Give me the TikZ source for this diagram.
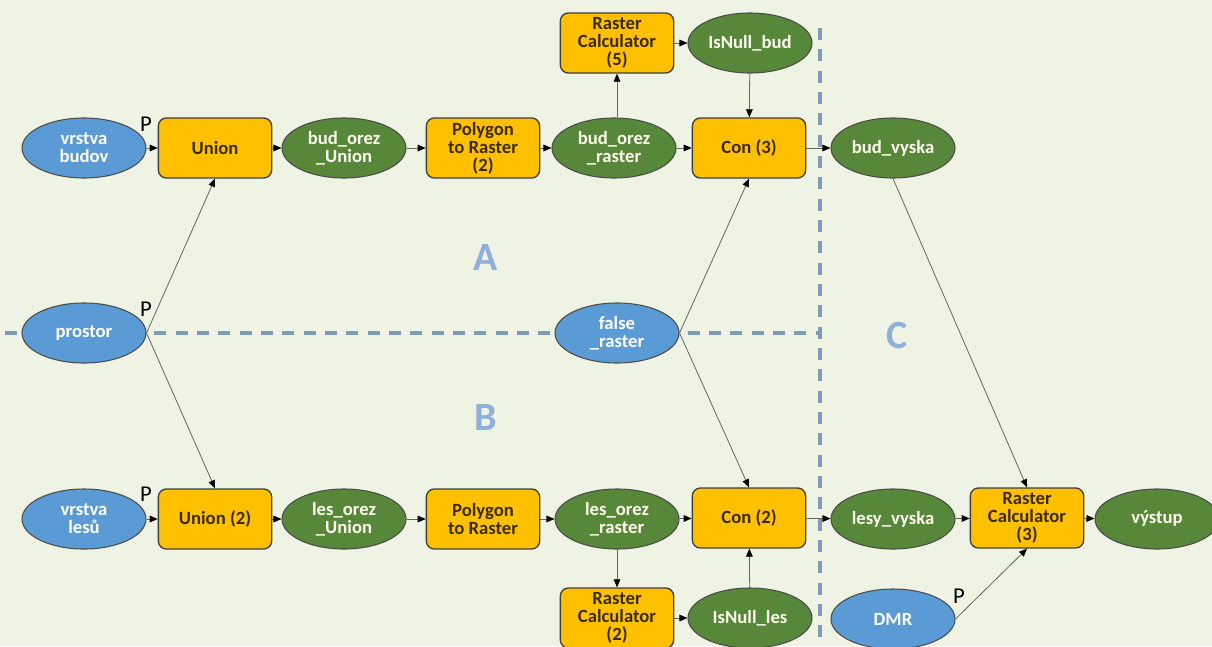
\documentclass[tikz,border=0pt]{standalone}
\usepackage{fontspec}
\setmainfont{Carlito}
\usepackage{tikz}
\usetikzlibrary{shapes.geometric, arrows.meta}
\definecolor{bgcol}{HTML}{EEF3E3}
\definecolor{toolfill}{HTML}{FFC000}
\definecolor{tooltext}{HTML}{3B2B05}
\definecolor{infill}{HTML}{5B9BD5}
\definecolor{outfill}{HTML}{578738}
\definecolor{regcol}{HTML}{7E9CB8}
\definecolor{lettercol}{HTML}{8DB1DA}

\begin{document}
\begin{tikzpicture}[x=0.75pt, y=-0.75pt, font=\bfseries\fontsize{14}{13.5}\selectfont,
  tool/.style={draw=black!75, line width=1pt, fill=toolfill, rounded corners=6pt, minimum width=85pt, minimum height=45pt, align=center, text=tooltext, inner sep=1pt},
  indata/.style={ellipse, draw=black!70, line width=0.8pt, fill=infill, minimum width=93pt, minimum height=45pt, align=center, text=white!94!yellow, inner sep=0pt},
  outdata/.style={indata, fill=outfill},
  flow/.style={draw=black!60, line width=0.6pt, -{Triangle[length=6pt, width=5pt, color=black]}},
  region/.style={draw=regcol, line width=3pt, dash pattern=on 9pt off 7pt},
  param/.style={font=\fontsize{17}{17}\selectfont, text=black, inner sep=0pt},
  area/.style={font=\bfseries\fontsize{30}{30}\selectfont, text=lettercol, inner sep=0pt}]
  \useasboundingbox (0,0) rectangle (1212,646);
  \clip (0,0) rectangle (1212,646);
  \fill[bgcol] (0,0) rectangle (1212,646);
  \draw[region] (5,333) -- (820,333);
  \draw[region] (820,28) -- (820,646);
  \node[area] (la) at (486,258) {A};
  \node[area] (lb) at (486,418) {B};
  \node[area] (lc) at (897,336) {C};

  % upper branch
  \node[indata] (budov) at (84,148) {vrstva\\budov};
  \node[tool] (union1) at (215,148) {Union};
  \node[outdata] (budUnion) at (344,148) {bud\_orez\\\_Union};
  \node[tool] (ptr2) at (483,148) {Polygon\\to Raster\\(2)};
  \node[outdata] (budRaster) at (614,148) {bud\_orez\\\_raster};
  \node[tool] (rc5) at (617,43) {Raster\\Calculator\\(5)};
  \node[outdata] (nullBud) at (750,43) {IsNull\_bud};
  \node[tool] (con3) at (749,148) {Con (3)};
  \node[outdata] (budVyska) at (893,148) {bud\_vyska};

  % inputs on the border
  \node[indata] (prostor) at (84,333) {prostor};
  \node[indata] (falseR) at (617,333) {false\\\_raster};

  % lower branch
  \node[indata] (lesu) at (84,519) {vrstva\\lesů};
  \node[tool] (union2) at (215,519) {Union (2)};
  \node[outdata] (lesUnion) at (344,519) {les\_orez\\\_Union};
  \node[tool] (ptr) at (483,519) {Polygon\\to Raster};
  \node[outdata] (lesRaster) at (617,519) {les\_orez\\\_raster};
  \node[tool] (rc2) at (617,618) {Raster\\Calculator\\(2)};
  \node[outdata] (nullLes) at (750,618) {IsNull\_les};
  \node[tool] (con2) at (749,518) {Con (2)};
  \node[outdata] (lesyVyska) at (893,519) {lesy\_vyska};
  \node[tool] (rc3) at (1027,518) {Raster\\Calculator\\(3)};
  \node[outdata] (vystup) at (1157,519) {výstup};
  \node[indata] (dmr) at (893,619) {DMR};

  \node[param] (p1) at (146,124) {P};
  \node[param] (p2) at (146,309) {P};
  \node[param] (p3) at (146,494) {P};
  \node[param] (p4) at (959,596) {P};

  \draw[flow] (budov) -- (union1);
  \draw[flow] (union1) -- (budUnion);
  \draw[flow] (budUnion) -- (ptr2);
  \draw[flow] (ptr2) -- (budRaster);
  \draw[flow] (budRaster) -- (con3);
  \draw[flow] (budRaster.north -| rc5) -- (rc5);
  \draw[flow] (rc5) -- (nullBud);
  \draw[flow] (nullBud) -- (con3);
  \draw[flow] (con3) -- (budVyska);
  \draw[flow] (prostor.east) -- (union1.south);
  \draw[flow] (prostor.east) -- (union2.north);
  \draw[flow] (falseR.east) -- (con3.south);
  \draw[flow] (falseR.east) -- (con2.north);
  \draw[flow] (lesu) -- (union2);
  \draw[flow] (union2) -- (lesUnion);
  \draw[flow] (lesUnion) -- (ptr);
  \draw[flow] (ptr) -- (lesRaster);
  \draw[flow] (lesRaster) -- (con2);
  \draw[flow] (lesRaster) -- (rc2);
  \draw[flow] (rc2) -- (nullLes);
  \draw[flow] (nullLes) -- (con2);
  \draw[flow] (con2) -- (lesyVyska);
  \draw[flow] (lesyVyska) -- (rc3);
  \draw[flow] (rc3) -- (vystup);
  \draw[flow] (budVyska.south) -- (rc3.north);
  \draw[flow] (dmr.east) -- (rc3.south);
\end{tikzpicture}
\end{document}
